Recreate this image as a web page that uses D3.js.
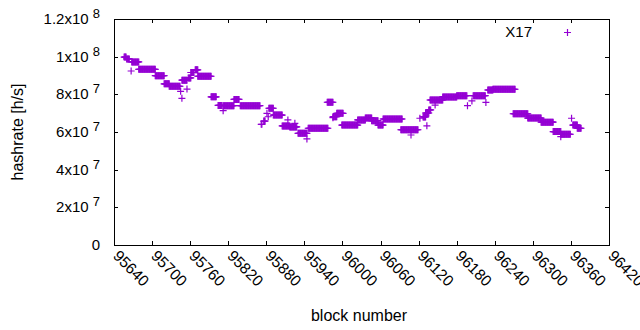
<!DOCTYPE html>
<html lang="en">
<head>
  <meta charset="UTF-8">
  <title>X17 hashrate</title>
  <style>
    body { margin:0; background:#fff; overflow:hidden; }
    #chart { display:block; }
    text { font-family: "Liberation Sans", Arial, sans-serif; fill:#000; }
  </style>
</head>
<body>
  <svg id="chart" width="640" height="330"></svg>
  <script src="https://d3js.org/d3.v7.min.js"></script>
  <script>
    // runs of blocks that share one hashrate value (h/s)
    const runStart = [95656,95660,95668,95667,95679,95705,95719,95727,95745,95747,95747,95755,95757,95761,95768,95772,95793,95804,95812,95812,95829,95839,
      95872,95876,95881,95883,95884,95891,95905,95914,95917,95925,95930,95944,95946,95976,95985,95985,95991,95999,96024,96036,96046,96056,96064,96092,
      96108,96122,96133,96127,96131,96136,96146,96138,96158,96180,96197,96204,96206,96226,96229,96237,96269,96292,96313,96332,96344,96344,96361,96363,96370];
    const runEnd = [95659,95664,95679,95667,95705,95719,95727,95744,95745,95747,95755,95755,95761,95766,95772,95793,95801,95810,95812,95829,95837,95870,
      95873,95878,95881,95883,95891,95905,95917,95914,95928,95925,95944,95944,95977,95985,95985,95991,96001,96024,96036,96046,96056,96064,96094,96119,
      96108,96122,96133,96131,96136,96139,96146,96158,96180,96196,96197,96204,96225,96226,96237,96272,96292,96313,96332,96344,96359,96344,96361,96370,96376];
    const runValue = [9.98e7,9.88e7,9.72e7,9.24e7,9.33e7,8.99e7,8.56e7,8.43e7,8.16e7,7.79e7,8.75e7,8.28e7,8.87e7,9.16e7,9.30e7,8.96e7,7.87e7,7.41e7,7.13e7,7.40e7,7.73e7,7.40e7,
      6.41e7,6.58e7,6.99e7,6.81e7,7.26e7,6.90e7,6.32e7,6.64e7,6.27e7,6.46e7,5.93e7,5.63e7,6.20e7,7.58e7,6.76e7,6.81e7,6.99e7,6.37e7,6.64e7,6.74e7,6.60e7,6.37e7,6.69e7,6.12e7,
      5.84e7,6.73e7,6.33e7,6.80e7,7.01e7,7.17e7,7.43e7,7.70e7,7.86e7,7.93e7,7.40e7,7.65e7,7.93e7,7.57e7,8.23e7,8.27e7,6.97e7,6.74e7,6.52e7,6.02e7,5.88e7,5.75e7,6.73e7,6.37e7,6.20e7];

    const xTicks = [95640,95700,95760,95820,95880,95940,96000,96060,96120,96180,96240,96300,96360,96420];
    const yTicks = [0,2e7,4e7,6e7,8e7,1e8,1.2e8];
    const seriesName = 'X17';

    const svg = d3.select('#chart');
    const m = {left:114, right:31, top:19, bottom:85};
    const W = 640, H = 330;
    const x = d3.scaleLinear().domain([95640,96420]).range([m.left, W-m.right]);
    const y = d3.scaleLinear().domain([0,1.2e8]).range([H-m.bottom, m.top]);
    const color = '#9400d3';

    // one point per block
    const points = [];
    runStart.forEach((s,i) => {
      for (let b = s; b <= runEnd[i]; b++) points.push({block:b, value:runValue[i]});
    });

    const plus = (cx, cy, r) => `M${cx-r},${cy}H${cx+r}M${cx},${cy-r}V${cy+r}`;

    // ticks (inward, mirrored)
    const tickLen = 4;
    const g = svg.append('g').attr('stroke','#000').attr('stroke-width',1);
    xTicks.forEach(t => {
      const px = Math.round(x(t))+0.5;
      g.append('line').attr('x1',px).attr('x2',px).attr('y1',y(0)).attr('y2',y(0)-tickLen);
      g.append('line').attr('x1',px).attr('x2',px).attr('y1',y(1.2e8)).attr('y2',y(1.2e8)+tickLen);
    });
    yTicks.forEach(t => {
      const py = Math.round(y(t))+0.5;
      g.append('line').attr('x1',x.range()[0]).attr('x2',x.range()[0]+tickLen).attr('y1',py).attr('y2',py);
      g.append('line').attr('x1',x.range()[1]).attr('x2',x.range()[1]-tickLen).attr('y1',py).attr('y2',py);
    });

    // frame
    svg.append('rect')
      .attr('x', Math.round(x.range()[0])+0.5).attr('y', Math.round(y.range()[1])+0.5)
      .attr('width', Math.round(x.range()[1]-x.range()[0])).attr('height', Math.round(y.range()[0]-y.range()[1]))
      .attr('fill','none').attr('stroke','#000').attr('stroke-width',1);

    // y tick labels, gnuplot style mantissa x10^exp
    yTicks.forEach(t => {
      const txt = svg.append('text').attr('x',100).attr('y',y(t)+5)
        .attr('text-anchor','end').style('font-size','15px');
      if (t === 0) { txt.attr('x',100).text('0'); return; }
      const e = Math.floor(Math.log10(t));
      const mant = +(t/Math.pow(10,e)).toFixed(1);
      txt.append('tspan').text(mant + 'x10 ');
      txt.append('tspan').attr('dy',-6).style('font-size','13px').text(e);
    });

    // x tick labels rotated
    xTicks.forEach(t => {
      svg.append('text')
        .attr('transform', `translate(${x(t)+2},${253}) rotate(45)`)
        .attr('text-anchor','start')
        .attr('dy','0.35em')
        .style('font-size','15.5px')
        .text(t);
    });

    // axis titles
    svg.append('text').attr('x',359).attr('y',321).attr('text-anchor','middle')
      .style('font-size','16px').text('block number');
    svg.append('text').attr('transform','translate(23,132) rotate(-90)').attr('text-anchor','middle')
      .style('font-size','16px').text('hashrate [h/s]');

    // points
    svg.append('g').selectAll('path').data(points).join('path')
      .attr('d', d => plus(x(d.block), y(d.value), 3.5))
      .attr('stroke', color).attr('stroke-width',1.2).attr('fill','none');

    // legend
    svg.append('text').attr('x',532).attr('y',37).attr('text-anchor','end')
      .style('font-size','15px').text(seriesName);
    svg.append('path').attr('d', plus(567.5, 32.5, 3.5))
      .attr('stroke', color).attr('stroke-width',1.2).attr('fill','none');
  </script>
</body>
</html>
